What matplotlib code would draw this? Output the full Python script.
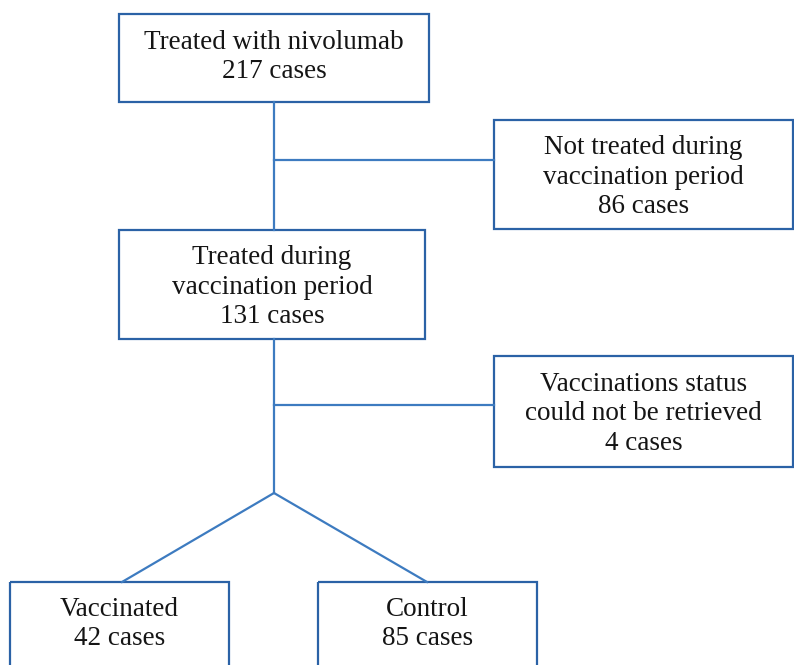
import matplotlib
matplotlib.use("Agg")
import matplotlib.pyplot as plt
from matplotlib.patches import Rectangle

# ── Flowchart content ─────────────────────────────────────────────────────────
box_labels = [
    "Treated with nivolumab\n217 cases",
    "Not treated during\nvaccination period\n86 cases",
    "Treated during\nvaccination period\n131 cases",
    "Vaccinations status\ncould not be retrieved\n4 cases",
    "Vaccinated\n42 cases",
    "Control\n85 cases",
]
# box geometry in pixels: x0, y0 (top), x1, y1 (bottom)
box_geom = [
    (119, 14, 429, 102),
    (494, 120, 793, 229),
    (119, 230, 425, 339),
    (494, 356, 793, 467),
    (10, 582, 229, 700),
    (318, 582, 537, 700),
]
text_y = [57, 177, 287, 414, 624, 624]

EDGE = "#2B62A6"
LINE = "#3D7BC0"

fig = plt.figure(figsize=(7.94, 6.65), dpi=100)
ax = fig.add_axes([0, 0, 1, 1])
ax.set_xlim(0, 794)
ax.set_ylim(665, 0)
ax.axis("off")

for (x0, y0, x1, y1), lab, ty in zip(box_geom, box_labels, text_y):
    ax.add_patch(Rectangle((x0, y0), x1 - x0, y1 - y0, fill=False,
                           edgecolor=EDGE, linewidth=1.6))
    ax.text((x0 + x1) / 2, ty, lab, ha="center", va="center",
            fontsize=19.5, family="Liberation Serif", color="#151515",
            linespacing=1.23)

# connectors
ax.plot([274, 274], [102, 230], color=LINE, lw=1.6)
ax.plot([274, 494], [160, 160], color=LINE, lw=1.6)
ax.plot([274, 274], [339, 493], color=LINE, lw=1.6)
ax.plot([274, 494], [405, 405], color=LINE, lw=1.6)
ax.plot([274, 122], [493, 582], color=LINE, lw=1.6)
ax.plot([274, 427], [493, 582], color=LINE, lw=1.6)

plt.savefig("out.png", dpi=100)
plt.close()
